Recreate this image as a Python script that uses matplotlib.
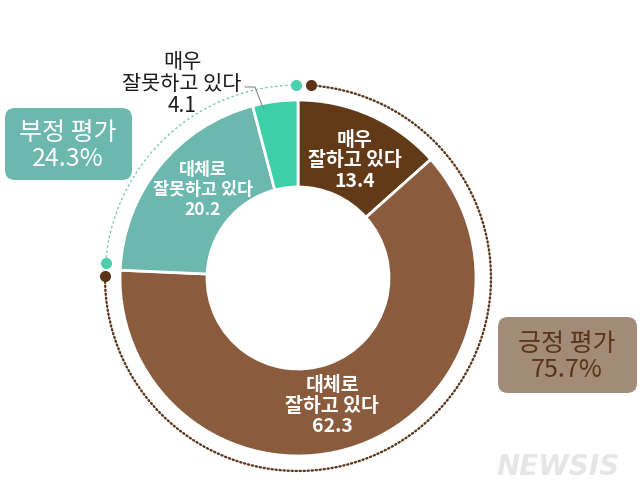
import numpy as np
import matplotlib
matplotlib.use("Agg")
import matplotlib.pyplot as plt
from matplotlib.patches import FancyBboxPatch

plt.rcParams['font.family'] = ['Noto Sans CJK KR', 'DejaVu Sans']

# data
labels = ["매우\n잘하고 있다", "대체로\n잘하고 있다", "대체로\n잘못하고 있다", "매우\n잘못하고 있다"]
values = [13.4, 62.3, 20.2, 4.1]
colors = ["#623a17", "#8b5b3d", "#6cb8af", "#3ccfaa"]
positive_total = 75.7
negative_total = 24.3

W, H = 643, 496
fig = plt.figure(figsize=(W / 100, H / 100), dpi=100)
ax = fig.add_axes([0, 0, 1, 1])

def Y(y):
    return H - y

cx, cy = 298, Y(278)
R = 178
ring = 87

ax.pie(values, colors=colors, startangle=90, counterclock=False,
       center=(cx, cy), radius=R, frame=True,
       wedgeprops=dict(width=ring, edgecolor="white", linewidth=2))
ax.set_xlim(0, W)
ax.set_ylim(0, H)
ax.set_aspect("equal")
ax.axis("off")

# dotted outer arcs (clockwise degrees from 12 o'clock)
rd = 193
split = positive_total * 3.6

def arc(a0, a1, n=200):
    t = np.radians(90 - np.linspace(a0, a1, n))
    return cx + rd * np.cos(t), cy + rd * np.sin(t)

def pt(a):
    t = np.radians(90 - a)
    return cx + rd * np.cos(t), cy + rd * np.sin(t)

bx, by = arc(4, split - 2)
ax.plot(bx, by, color="#5a3519", lw=1.7, ls=(0, (0.5, 1.2)), dash_capstyle="round")
tx, ty = arc(split + 2, 359.5)
ax.plot(tx, ty, color="#6cc4b4", lw=0.9, ls=(0, (2, 2)))
for a, c in [(4, "#5a3519"), (split - 2, "#5a3519"), (split + 2, "#4fcfb0"), (359.5, "#4fcfb0")]:
    x, y = pt(a)
    ax.plot(x, y, "o", color=c, ms=7, zorder=5)

# wedge labels
ax.text(355, Y(161), f"{labels[0]}\n{values[0]}", ha="center", va="center",
        color="white", fontsize=14, fontweight="bold", linespacing=1.12)
ax.text(332, Y(406), f"{labels[1]}\n{values[1]}", ha="center", va="center",
        color="white", fontsize=14, fontweight="bold", linespacing=1.12)
ax.text(203, Y(190), f"{labels[2]}\n{values[2]}", ha="center", va="center",
        color="white", fontsize=12.5, fontweight="bold", linespacing=1.12)
ax.text(182, Y(84), f"{labels[3]}\n{values[3]}", ha="center", va="center",
        color="#1a1a1a", fontsize=15, fontweight="medium", linespacing=1.02)
ax.plot([245, 255, 263], [Y(87), Y(87), Y(108)], color="#888888", lw=0.8)

# summary boxes
box1 = FancyBboxPatch((5, Y(180)), 127, 72, boxstyle="round,pad=0,rounding_size=10",
                      fc="#6cb7ae", ec="none")
ax.add_patch(box1)
ax.text(68, Y(146), f"부정 평가\n{negative_total}%", ha="center", va="center",
        color="white", fontsize=18, linespacing=1.0)

box2 = FancyBboxPatch((498, Y(393)), 139, 76, boxstyle="round,pad=0,rounding_size=10",
                      fc="#a38c77", ec="none")
ax.add_patch(box2)
ax.text(567, Y(357), f"긍정 평가\n{positive_total}%", ha="center", va="center",
        color="#5a3519", fontsize=18, linespacing=1.0)

ax.text(558, Y(467), "NEWSIS", ha="center", va="center", color="#e6e6e6",
        fontsize=20, fontweight="bold", style="italic", family="DejaVu Sans")

fig.savefig("out.png", dpi=100)
